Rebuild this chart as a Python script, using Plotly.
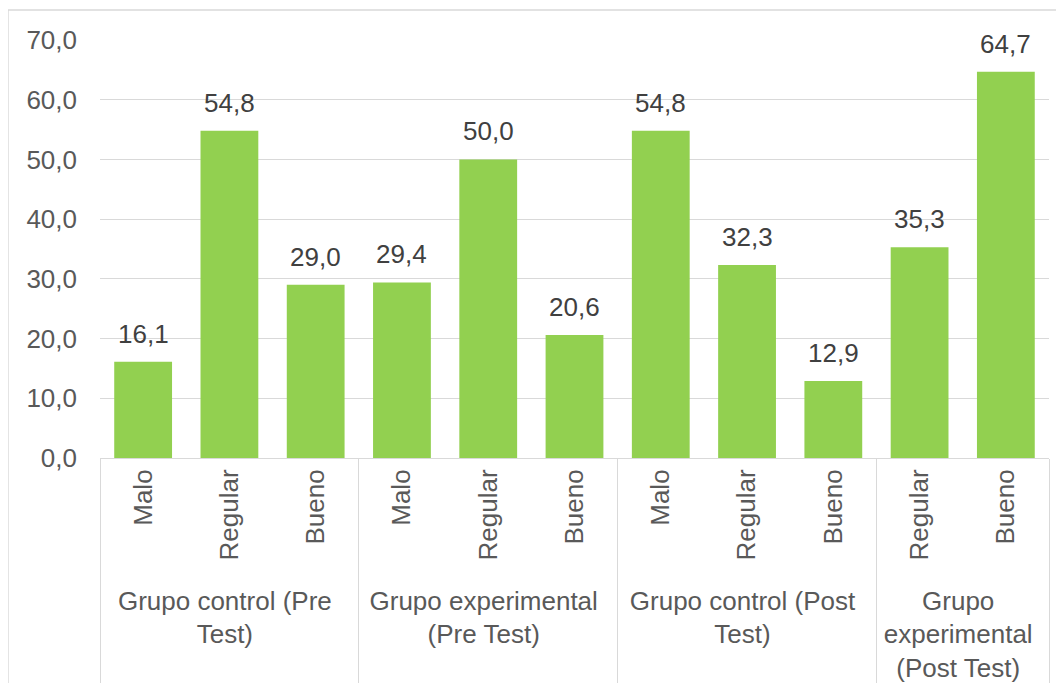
import plotly.graph_objects as go

grupos = [
    "Grupo control (Pre<br>Test)",
    "Grupo control (Pre<br>Test)",
    "Grupo control (Pre<br>Test)",
    "Grupo experimental<br>(Pre Test)",
    "Grupo experimental<br>(Pre Test)",
    "Grupo experimental<br>(Pre Test)",
    "Grupo control (Post<br>Test)",
    "Grupo control (Post<br>Test)",
    "Grupo control (Post<br>Test)",
    "Grupo<br>experimental<br>(Post Test)",
    "Grupo<br>experimental<br>(Post Test)",
]
niveles = ["Malo", "Regular", "Bueno", "Malo", "Regular", "Bueno",
           "Malo", "Regular", "Bueno", "Regular", "Bueno"]
porcentajes = [16.1, 54.8, 29.0, 29.4, 50.0, 20.6, 54.8, 32.3, 12.9, 35.3, 64.7]
y_ticks = [0, 10, 20, 30, 40, 50, 60, 70]

fig = go.Figure(go.Bar(
    x=[grupos, niveles], y=porcentajes,
    marker=dict(color='#92d050', line=dict(width=0)),
    width=0.67,
))

# data labels a bit further above the bars than plotly's outside text
for i, v in enumerate(porcentajes):
    fig.add_annotation(x=i, y=v, text=f"{v:.1f}".replace('.', ','),
                       showarrow=False, yanchor='bottom', yshift=11,
                       font=dict(size=26, color='#404040'))

# page body adds an 8px margin, so the figure is 8px smaller than the window
fig.update_layout(
    width=1056, height=675,
    paper_bgcolor='white', plot_bgcolor='white',
    font=dict(family='Liberation Sans, Arial, sans-serif', size=26, color='#595959'),
    separators=',.',
    margin=dict(l=92, r=15, t=32, b=225),
    showlegend=False,
)
fig.update_xaxes(
    type='multicategory', tickangle=-90, automargin=False,
    showline=True, linecolor='#d9d9d9', linewidth=1,
    showdividers=True, dividercolor='#d9d9d9', dividerwidth=1,
    ticks='', showgrid=False,
)
fig.update_yaxes(
    range=[0, 70], tickvals=y_ticks, tickformat='.1f',
    gridcolor='#d9d9d9', gridwidth=1, zeroline=False,
    ticks='', ticklabelstandoff=22,
)
# chart border
fig.add_shape(type='rect', xref='paper', yref='paper',
              x0=-0.097, x1=1.03, y0=-0.56, y1=1.0718,
              line=dict(color='#d9d9d9', width=1.5), layer='below')

fig.write_html("out.html")
